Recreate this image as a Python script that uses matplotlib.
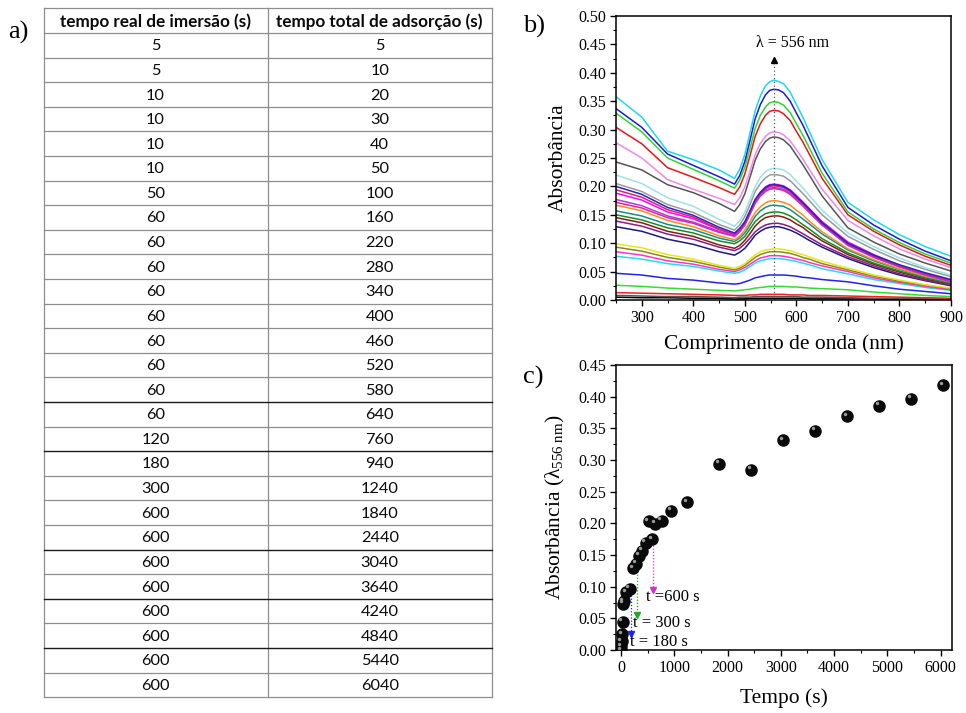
import matplotlib
matplotlib.use("Agg")
import matplotlib.pyplot as plt
from matplotlib.ticker import MultipleLocator, FormatStrFormatter
from matplotlib.transforms import offset_copy

# ---------------- data ----------------
# (a) immersion schedule
table_header = ["tempo real de imersão (s)", "tempo total de adsorção (s)"]
immersion_time_s = [5, 5, 10, 10, 10, 10, 50, 60, 60, 60, 60, 60, 60, 60, 60, 60,
                    120, 180, 300, 600, 600, 600, 600, 600, 600, 600, 600]
total_adsorption_s = [5, 10, 20, 30, 40, 50, 100, 160, 220, 280, 340, 400, 460, 520,
                      580, 640, 760, 940, 1240, 1840, 2440, 3040, 3640, 4240, 4840,
                      5440, 6040]
# row boundaries printed with a darker rule
dark_rule_rows = [14, 16, 20, 22, 24]

# (b) UV-Vis spectra, highest absorbance first
wavelength_nm = [250, 300, 350, 400, 450, 480, 490, 500, 510, 520, 530, 540, 548,
                 556, 565, 575, 588, 600, 612, 625, 650, 700, 750, 800, 850, 900]
spectra_absorbance = [
    [.358, .322, .262, .247, .229, .214, .230, .256, .294, .333, .359, .377, .384, .387, .385, .381, .366, .344, .323, .297, .247, .172, .141, .115, .094, .077],
    [.337, .304, .257, .237, .217, .204, .219, .244, .281, .319, .344, .361, .369, .371, .370, .365, .350, .329, .309, .284, .236, .163, .132, .107, .086, .069],
    [.329, .296, .250, .230, .210, .197, .211, .234, .267, .302, .325, .340, .347, .349, .348, .343, .330, .310, .291, .268, .223, .155, .125, .101, .081, .065],
    [.304, .275, .233, .216, .198, .186, .199, .222, .254, .288, .310, .325, .332, .334, .333, .328, .316, .297, .279, .257, .214, .150, .121, .097, .077, .061],
    [.277, .250, .212, .195, .179, .168, .180, .199, .227, .256, .276, .288, .294, .296, .295, .291, .280, .265, .249, .230, .195, .140, .113, .090, .072, .057],
    [.243, .229, .203, .189, .170, .156, .168, .187, .216, .246, .266, .279, .285, .287, .286, .282, .271, .255, .239, .220, .183, .127, .102, .081, .065, .051],
    [.220, .205, .180, .165, .142, .130, .139, .155, .177, .200, .216, .226, .230, .232, .231, .229, .221, .209, .198, .184, .158, .118, .094, .074, .057, .044],
    [.205, .191, .168, .154, .133, .123, .132, .147, .168, .191, .205, .215, .220, .221, .220, .218, .210, .199, .188, .175, .150, .112, .089, .069, .054, .041],
    [.200, .186, .163, .149, .128, .118, .126, .138, .157, .177, .189, .198, .202, .203, .202, .200, .193, .182, .172, .160, .136, .100, .079, .062, .048, .036],
    [.194, .181, .159, .146, .125, .116, .124, .136, .155, .175, .187, .196, .200, .201, .200, .198, .191, .180, .170, .158, .134, .098, .077, .060, .046, .035],
    [.188, .176, .155, .143, .124, .115, .123, .136, .156, .176, .190, .199, .203, .204, .203, .201, .194, .184, .173, .161, .138, .102, .080, .061, .046, .034],
    [.177, .166, .148, .137, .121, .113, .121, .133, .152, .172, .184, .193, .197, .198, .197, .195, .188, .178, .167, .155, .132, .096, .075, .058, .044, .032],
    [.172, .162, .145, .135, .119, .112, .120, .132, .151, .170, .183, .191, .195, .196, .195, .193, .186, .176, .166, .154, .132, .097, .076, .059, .045, .033],
    [.167, .157, .140, .129, .113, .106, .112, .123, .138, .154, .164, .171, .174, .175, .174, .172, .167, .158, .150, .139, .120, .090, .071, .055, .042, .032],
    [.157, .148, .133, .124, .109, .103, .109, .118, .132, .147, .157, .163, .166, .167, .166, .165, .159, .151, .143, .134, .116, .088, .069, .054, .041, .031],
    [.150, .141, .127, .118, .104, .099, .104, .112, .125, .138, .146, .152, .154, .155, .155, .153, .148, .141, .133, .125, .108, .083, .065, .051, .039, .029],
    [.145, .136, .121, .112, .097, .091, .096, .105, .117, .130, .139, .145, .147, .148, .148, .146, .141, .134, .128, .119, .104, .080, .063, .049, .037, .028],
    [.139, .130, .116, .107, .093, .087, .091, .099, .109, .120, .127, .132, .134, .135, .135, .133, .129, .123, .117, .110, .097, .076, .060, .046, .035, .026],
    [.129, .121, .107, .098, .085, .079, .084, .091, .102, .114, .121, .126, .128, .129, .129, .127, .123, .118, .112, .105, .093, .073, .057, .044, .034, .025],
    [.099, .092, .080, .072, .061, .056, .059, .064, .072, .079, .085, .088, .089, .090, .090, .089, .087, .083, .080, .076, .068, .056, .044, .035, .027, .021],
    [.093, .086, .075, .068, .058, .053, .056, .061, .068, .075, .080, .083, .085, .085, .085, .084, .082, .079, .075, .072, .064, .053, .042, .033, .026, .020],
    [.085, .079, .069, .063, .054, .050, .053, .057, .063, .069, .074, .076, .078, .078, .078, .077, .075, .072, .070, .066, .060, .050, .039, .031, .024, .018],
    [.077, .072, .064, .059, .051, .047, .049, .053, .059, .065, .069, .071, .073, .073, .073, .072, .070, .068, .065, .062, .055, .046, .036, .029, .022, .017],
    [.047, .044, .038, .035, .030, .028, .029, .032, .035, .039, .041, .043, .044, .044, .044, .044, .043, .042, .040, .039, .036, .032, .025, .019, .015, .011],
    [.026, .024, .021, .019, .017, .016, .017, .018, .019, .021, .022, .023, .024, .024, .024, .024, .023, .023, .022, .021, .020, .018, .014, .011, .008, .006],
    [.013, .012, .011, .010, .009, .008, .008, .008, .009, .009, .010, .010, .010, .010, .010, .010, .009, .009, .009, .008, .008, .007, .006, .005, .004, .003],
    [.008, .007, .006, .006, .005, .004, .005, .005, .005, .006, .006, .006, .006, .006, .006, .006, .006, .006, .005, .005, .005, .004, .003, .003, .002, .002],
    [.005, .004, .004, .003, .003, .002, .002, .002, .003, .003, .003, .003, .003, .003, .003, .003, .003, .003, .003, .002, .002, .002, .002, .001, .001, .001],
]
spectra_colors = [
    "#1fd8f0", "#1a1adc", "#2ed62e", "#e8161b", "#ee88ee", "#555555", "#9be3e8",
    "#9a9a9a", "#2424c8", "#e0206a", "#ff00ff", "#a040e0", "#ff1493", "#ff8c1a",
    "#1a8c8c", "#1a8c1a", "#8b1a1a", "#8b1a8b", "#1a1a80", "#e6e61a", "#8b8b1a",
    "#ff33cc", "#22ddee", "#2222ee", "#33dd33", "#ee2222", "#555555", "#000000",
]
peak_nm = 556
peak_label = "λ = 556 nm"

# (c) absorbance at 556 nm versus total adsorption time
time_s = [0, 5, 10, 20, 30, 40, 50, 100, 160, 220, 280, 340, 400, 460, 520, 580,
          640, 760, 940, 1240, 1840, 2440, 3040, 3640, 4240, 4840, 5440, 6040]
abs_556 = [0.000, 0.006, 0.014, 0.025, 0.045, 0.073, 0.077, 0.091, 0.097, 0.129,
           0.136, 0.149, 0.157, 0.169, 0.203, 0.175, 0.199, 0.204, 0.220, 0.233,
           0.294, 0.285, 0.331, 0.346, 0.369, 0.386, 0.397, 0.418]
marker_times = [180, 300, 600]
marker_from = [0.087, 0.124, 0.166]
marker_to = [0.021, 0.052, 0.091]
marker_colors = ["#2020ff", "#22aa22", "#cc33cc"]
marker_labels = ["t = 180 s", "t = 300 s", "t =600 s"]
marker_label_x = [170, 225, 475]
marker_label_y = [0.013, 0.042, 0.083]

# ---------------- style ----------------
SERIF = "Liberation Serif"
plt.rcParams.update({
    "font.family": [SERIF, "DejaVu Serif"],
    "mathtext.fontset": "custom",
    "mathtext.rm": SERIF,
    "mathtext.it": SERIF + ":italic",
    "mathtext.bf": SERIF + ":bold",
    "axes.linewidth": 1.0,
})
W, H = 966, 713
fig = plt.figure(figsize=(W / 100, H / 100), dpi=100)

# ---------------- (a) table ----------------
tab = fig.add_axes([0, 0, 1, 1])
tab.set_xlim(0, W)
tab.set_ylim(H, 0)
tab.axis("off")
x_left, x_mid, x_right = 43.5, 267.5, 492.0
y_top, y_head = 7.5, 33.0
row_h = 24.6
n_rows = len(total_adsorption_s)
y_bottom = y_head + n_rows * row_h
grid_col = "#8e8e8e"
for x in (x_left, x_mid, x_right):
    tab.plot([x, x], [y_top, y_bottom], color=grid_col, lw=0.9)
tab.plot([x_left, x_right], [y_top, y_top], color=grid_col, lw=0.9)
tab.plot([x_left, x_right], [y_head, y_head], color=grid_col, lw=0.9)
for k in range(n_rows):
    y = y_head + (k + 1) * row_h
    dark = k in dark_rule_rows
    tab.plot([x_left, x_right], [y, y], color="#1a1a1a" if dark else grid_col,
             lw=1.0 if dark else 0.9)
cx = [(x_left + x_mid) / 2, (x_mid + x_right) / 2]
for j, h in enumerate(table_header):
    tab.text(cx[j], (y_top + y_head) / 2 + 1, h, ha="center", va="center",
             family="Lato", weight="bold", fontsize=12.3, color="#0a0a0a")
for k, (a, b) in enumerate(zip(immersion_time_s, total_adsorption_s)):
    yc = y_head + (k + 0.5) * row_h + 1
    tab.text(cx[0], yc, str(a), ha="center", va="center", family="Lato",
             fontsize=11.8, color="#0a0a0a")
    tab.text(cx[1], yc, str(b), ha="center", va="center", family="Lato",
             fontsize=11.8, color="#0a0a0a")
tab.text(8, 32, "a)", ha="left", va="center", fontsize=19, family=SERIF)
tab.text(523, 26, "b)", ha="left", va="center", fontsize=19, family=SERIF)
tab.text(523, 377, "c)", ha="left", va="center", fontsize=19, family=SERIF)


def style_axes(ax):
    ax.tick_params(which="major", direction="out", length=4, width=1.0,
                   labelsize=11.5, top=False, right=False, pad=3,
                   labelfontfamily=SERIF)
    ax.tick_params(which="minor", direction="out", length=2.5, width=0.8,
                   top=False, right=False)
    for s in ax.spines.values():
        s.set_linewidth(1.1)


# ---------------- (b) spectra ----------------
axb = fig.add_axes([616 / W, 1 - 300 / H, 335 / W, 284 / H])
for vals, col in reversed(list(zip(spectra_absorbance, spectra_colors))):
    axb.plot(wavelength_nm, vals, color=col, lw=1.1)
axb.set_xlim(250, 900)
axb.set_ylim(0, 0.5)
axb.xaxis.set_major_locator(MultipleLocator(100))
axb.xaxis.set_minor_locator(MultipleLocator(50))
axb.yaxis.set_major_locator(MultipleLocator(0.05))
axb.yaxis.set_minor_locator(MultipleLocator(0.025))
axb.yaxis.set_major_formatter(FormatStrFormatter("%.2f"))
style_axes(axb)
axb.set_xlabel("Comprimento de onda (nm)", fontsize=15.5, labelpad=6, family=SERIF)
axb.set_ylabel("Absorbância", fontsize=15.5, labelpad=8, family=SERIF)
axb.plot([peak_nm, peak_nm], [0, 0.42], color="#555555", lw=0.9, ls=(0, (1, 2)))
axb.plot([peak_nm], [0.422], marker="^", color="black", ms=4, clip_on=False)
axb.text(593, 0.453, peak_label, ha="center", va="center", fontsize=11.5,
         family=SERIF)

# ---------------- (c) kinetics ----------------
axc = fig.add_axes([616 / W, 1 - 650 / H, 336 / W, 285 / H])
for t, f, to, col in zip(marker_times, marker_from, marker_to, marker_colors):
    axc.plot([t, t], [f, to + 0.006], color=col, lw=0.9, ls=(0, (1, 1.5)))
    axc.plot([t], [to + 0.004], marker="v", color=col, ms=4.5)
axc.scatter(time_s, abs_556, s=64, color="#0a0a0a", zorder=3)
hl = offset_copy(axc.transData, fig=fig, x=-1.6, y=1.8, units="points")
axc.scatter(time_s, abs_556, s=6, color="#9a9a9a", zorder=4, transform=hl,
            linewidths=0)
for lab, lx, ly in zip(marker_labels, marker_label_x, marker_label_y):
    axc.text(lx, ly, lab, ha="left", va="center", fontsize=12, zorder=5,
             family=SERIF)
axc.set_xlim(-94, 6212)
axc.set_ylim(0, 0.45)
axc.xaxis.set_major_locator(MultipleLocator(1000))
axc.xaxis.set_minor_locator(MultipleLocator(500))
axc.yaxis.set_major_locator(MultipleLocator(0.05))
axc.yaxis.set_minor_locator(MultipleLocator(0.025))
axc.yaxis.set_major_formatter(FormatStrFormatter("%.2f"))
style_axes(axc)
axc.set_xlabel("Tempo (s)", fontsize=15.5, labelpad=9, family=SERIF)
axc.set_ylabel("Absorbância (λ$_{556\\ \\mathrm{nm}}$)", fontsize=15.5,
               labelpad=8, family=SERIF)

fig.savefig("out.png", dpi=100)
